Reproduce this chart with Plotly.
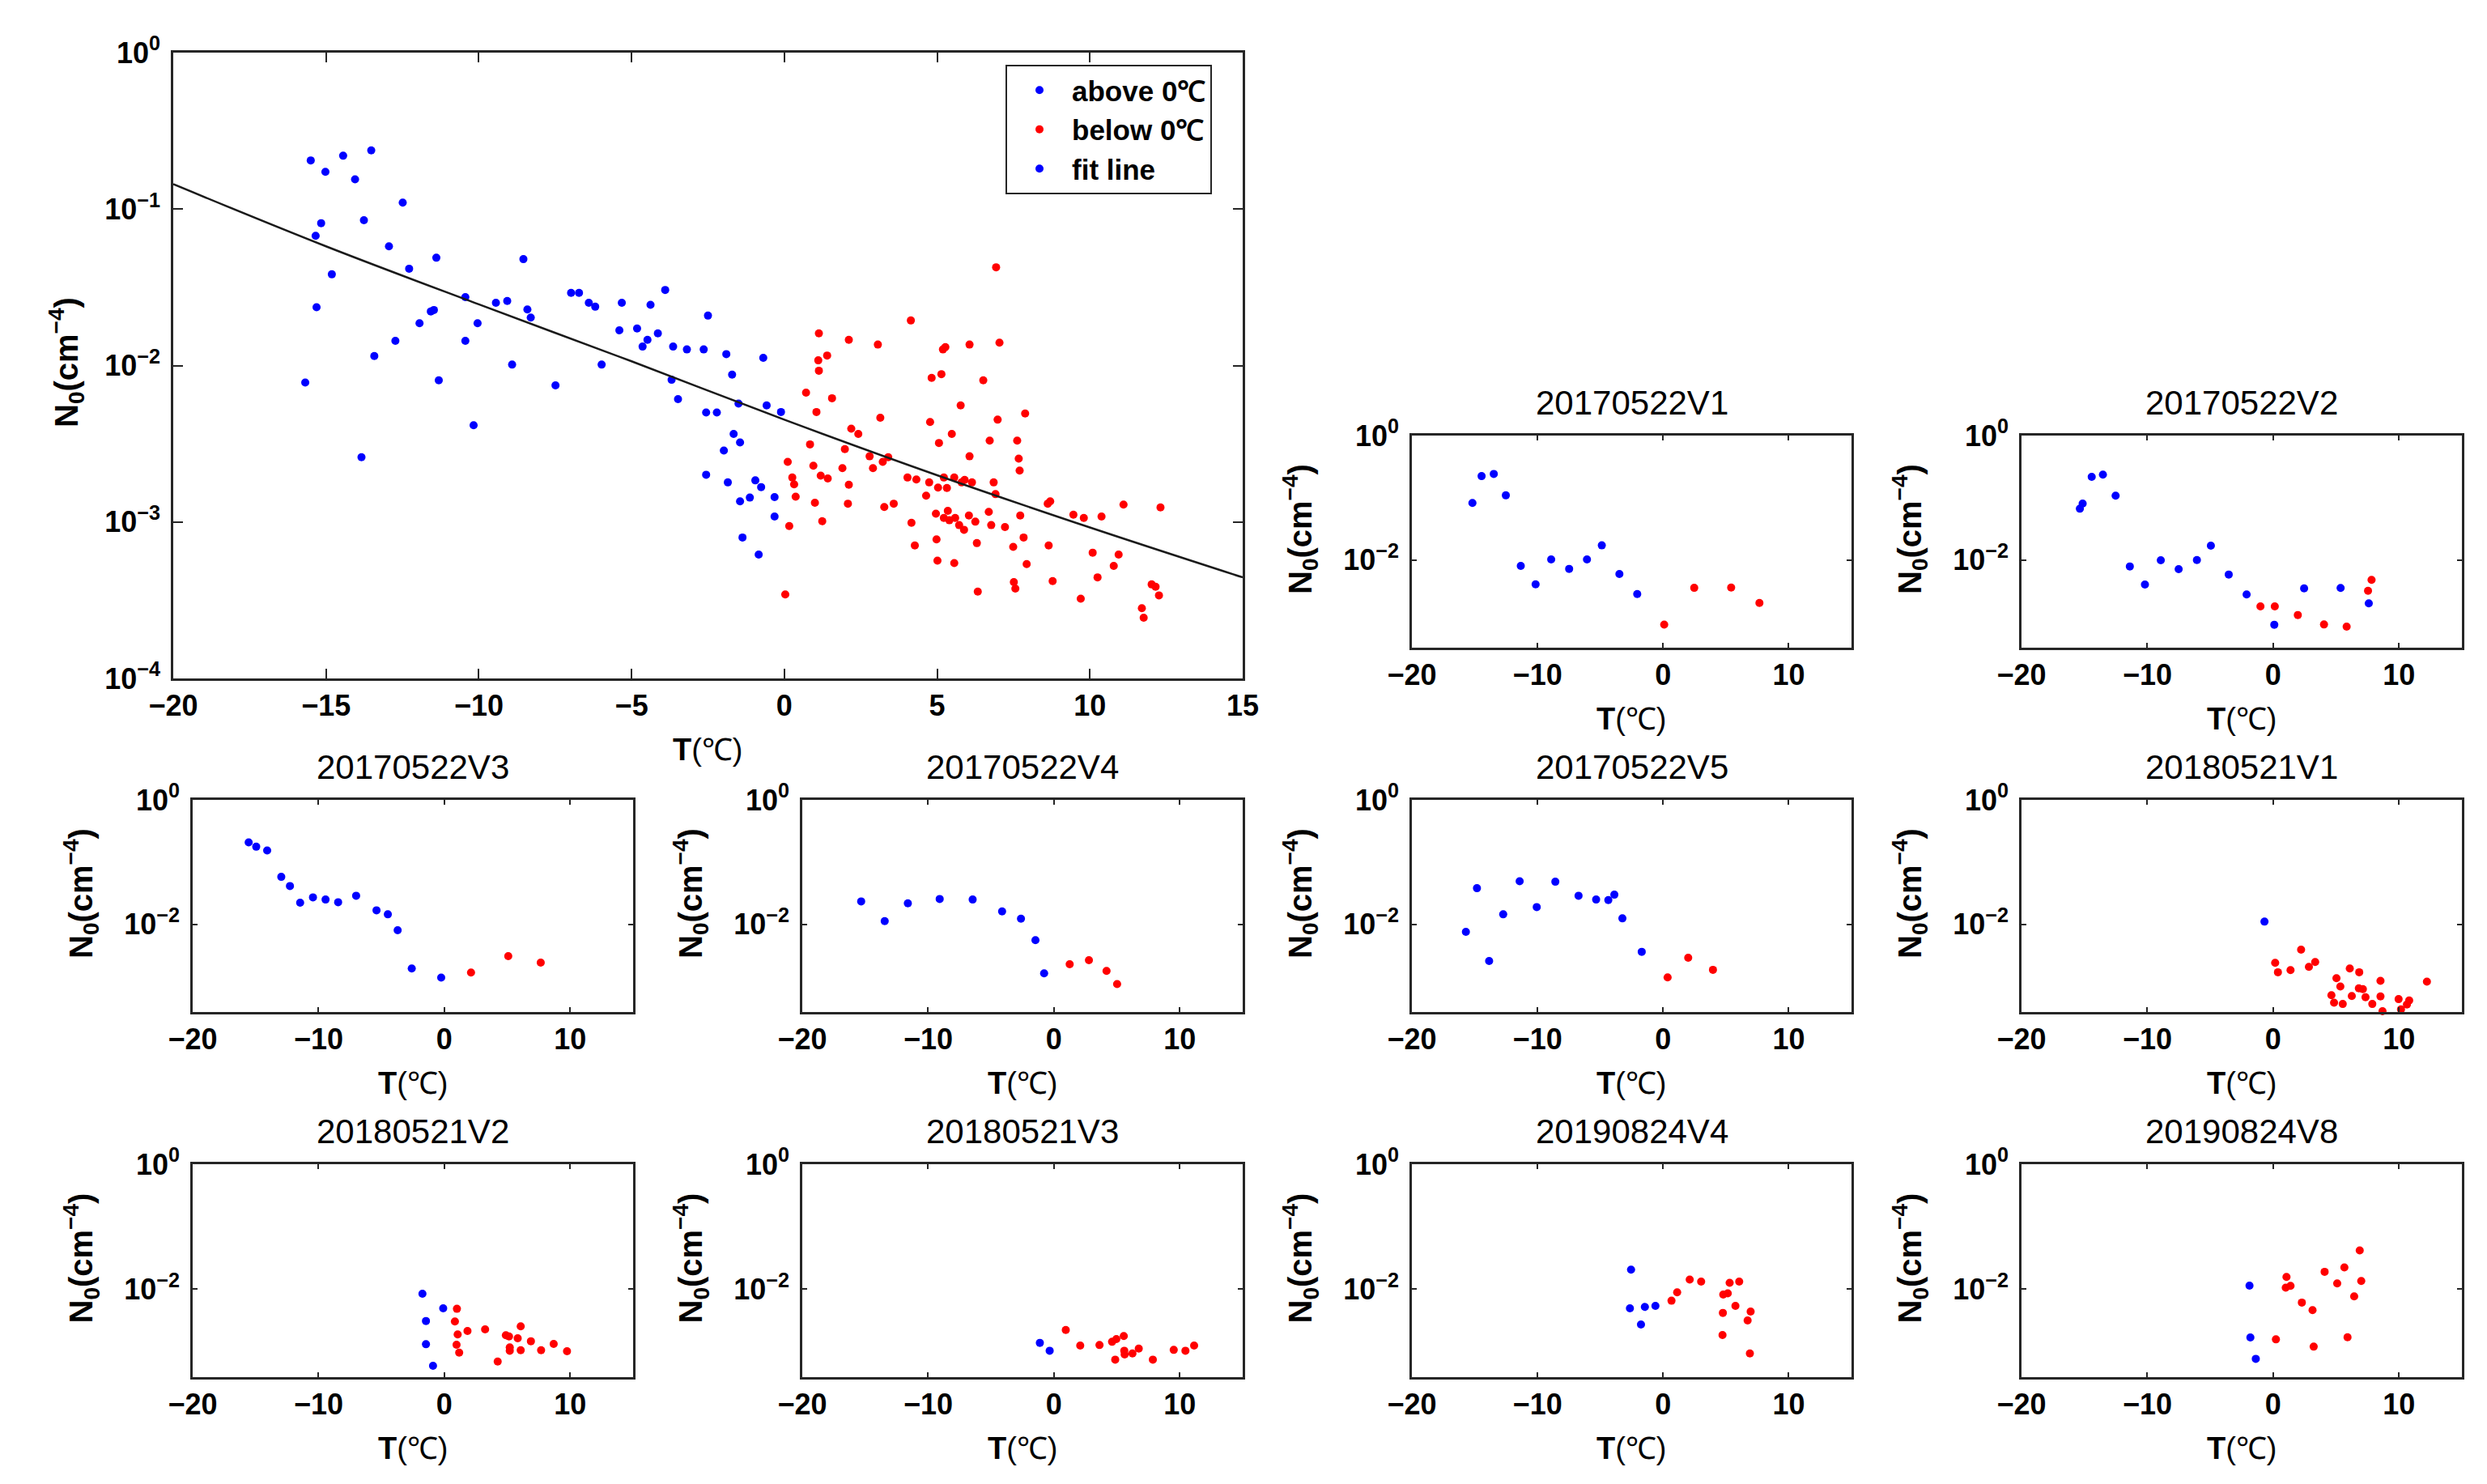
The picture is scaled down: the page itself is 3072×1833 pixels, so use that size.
import numpy as np
import plotly.graph_objects as go

FONT = "Liberation Sans"
W, H = 3072, 1833
BLUE = "rgb(0,0,255)"
RED = "rgb(255,0,0)"
AXIS = "#262626"

# ---- main panel (all flights), N0 stored as log10 values ----
main_blue_t = [-15.50, -15.34, -15.16, -15.02, -15.31, -14.81, -15.68, -14.44, -14.05, -13.76,
               -13.84, -13.52, -13.42, -12.94, -12.73, -12.49, -12.28, -11.94, -11.57, -11.47,
               -11.39, -11.31, -10.44, -10.44, -10.04, -10.17, -9.44, -9.07, -8.91, -8.54,
               -8.41, -8.30, -7.49, -6.98, -6.72, -6.40, -6.19, -5.98, -5.32, -5.40,
               -4.82, -4.64, -4.48, -4.38, -4.14, -3.90, -3.69, -3.64, -3.48, -3.19,
               -2.64, -2.56, -2.50, -2.21, -2.56, -1.90, -1.98, -1.85, -1.71, -1.66,
               -1.50, -1.45, -1.45, -1.37, -1.13, -0.95, -0.84, -0.76, -0.69, -0.58,
               -0.32, -0.32, -0.11]
main_blue_log10n = [-0.689, -1.171, -1.090, -0.762, -1.627, -1.417, -2.109, -0.659, -0.810, -1.071,
                    -2.586, -0.625, -1.939, -1.238, -1.842, -0.959, -1.381, -1.730, -1.654, -1.645,
                    -1.311, -2.094, -1.563, -1.842, -1.730, -2.382, -1.599, -1.587, -1.994, -1.320,
                    -1.642, -1.693, -2.127, -1.536, -1.536, -1.599, -1.624, -1.994, -1.599, -1.775,
                    -1.763, -1.879, -1.836, -1.612, -1.794, -1.517, -2.091, -1.879, -2.215, -1.897,
                    -1.897, -2.300, -1.681, -2.300, -2.698, -1.927, -2.543, -2.747, -2.058, -2.437,
                    -2.243, -2.492, -2.868, -3.099, -2.844, -2.734, -3.208, -2.777, -1.951, -2.255,
                    -2.841, -2.965, -2.297]
main_red_t = [0.03, 0.11, 0.16, 0.26, 0.32, 0.37, 0.71, 0.84, 0.95, 1.00,
              1.05, 1.11, 1.13, 1.13, 1.19, 1.24, 1.40, 1.42, 1.56, 1.90,
              1.98, 2.08, 2.11, 2.11, 2.19, 2.42, 2.79, 2.90, 3.06, 3.14,
              3.22, 3.27, 3.40, 3.58, 4.03, 4.14, 4.16, 4.27, 4.32, 4.64,
              4.74, 4.77, 4.82, 4.96, 4.98, 5.01, 5.03, 5.06, 5.14, 5.19,
              5.22, 5.22, 5.27, 5.32, 5.35, 5.40, 5.48, 5.56, 5.56, 5.59,
              5.72, 5.77, 5.80, 5.88, 5.90, 6.04, 6.06, 6.06, 6.14, 6.25,
              6.30, 6.33, 6.51, 6.69, 6.72, 6.77, 6.85, 6.91, 6.93, 6.98,
              7.04, 7.22, 7.49, 7.51, 7.56, 7.62, 7.67, 7.70, 7.72, 7.83,
              7.88, 7.93, 8.62, 8.65, 8.70, 8.78, 9.46, 9.70, 9.80, 10.09,
              10.25, 10.38, 10.78, 10.94, 11.10, 11.70, 11.76, 12.02, 12.15, 12.26, 12.31]
main_red_log10n = [-3.463, -2.616, -3.026, -2.716, -2.759, -2.838, -2.173, -2.504, -2.640, -2.877,
                   -2.297, -1.967, -2.033, -1.794, -2.704, -2.995, -1.936, -2.722, -2.209, -2.656,
                   -2.534, -2.883, -2.762, -1.836, -2.404, -2.437, -2.580, -2.656, -1.866, -2.334,
                   -2.616, -2.904, -2.586, -2.883, -2.716, -1.712, -3.005, -3.150, -2.728, -2.832,
                   -2.747, -2.361, -2.079, -2.947, -3.111, -3.247, -2.780, -2.495, -2.055, -1.897,
                   -2.716, -2.974, -1.882, -2.783, -2.929, -2.989, -2.437, -3.263, -2.716, -2.974,
                   -3.020, -2.255, -2.747, -3.050, -2.731, -2.959, -2.580, -1.866, -2.747, -2.998,
                   -3.135, -3.445, -2.094, -2.935, -2.480, -3.020, -2.747, -2.822, -1.372, -2.346,
                   -1.854, -3.032, -3.159, -3.384, -3.426, -2.480, -2.595, -2.671, -2.959, -3.099,
                   -2.307, -3.269, -2.883, -3.150, -2.868, -3.378, -2.953, -3.490, -2.974, -3.196,
                   -3.354, -2.965, -3.281, -3.208, -2.889, -3.551, -3.612, -3.399, -3.414, -3.469, -2.907]
fit_t = [-20, -15, -10, -5, 0, 5, 10, 15]
fit_log10n = [-0.841, -1.238, -1.609, -1.973, -2.346, -2.701, -3.035, -3.354]

# ---- single flights ----
a_blue_t = [-15.18, -14.45, -13.48, -12.52, -11.33, -10.15, -8.91, -7.48, -6.06, -4.88, -3.48, -2.06]
a_blue_log10n = [-1.083, -0.652, -0.617, -0.961, -2.096, -2.391, -1.991, -2.143, -1.991, -1.765, -2.226, -2.548]
a_red_t = [0.09, 2.48, 5.42, 7.67]
a_red_log10n = [-3.039, -2.448, -2.443, -2.691]

b_blue_t = [-15.36, -15.14, -14.42, -13.53, -12.52, -11.39, -10.19, -8.93, -7.51, -6.06,
            -4.95, -3.53, -2.11, 0.09, 2.46, 5.36, 7.60]
b_blue_log10n = [-1.176, -1.093, -0.664, -0.629, -0.967, -2.104, -2.395, -2.004, -2.148, -2.000,
                 -1.770, -2.234, -2.555, -3.041, -2.456, -2.451, -2.698]
b_red_t = [-1.01, 0.13, 1.96, 4.04, 5.84, 7.54, 7.82]
b_red_log10n = [-2.746, -2.746, -2.885, -3.037, -3.072, -2.495, -2.321]

c_blue_t = [-15.55, -14.95, -14.08, -12.96, -12.27, -11.46, -10.44, -9.44, -8.44, -7.01,
            -5.39, -4.49, -3.71, -2.59, -0.25]
c_blue_log10n = [-0.684, -0.753, -0.814, -1.238, -1.385, -1.654, -1.567, -1.602, -1.645, -1.541,
                 -1.775, -1.840, -2.095, -2.710, -2.857]
c_red_t = [2.12, 5.08, 7.66]
c_red_log10n = [-2.775, -2.511, -2.615]

d_blue_t = [-15.32, -13.45, -11.61, -9.08, -6.46, -4.12, -2.62, -1.47, -0.78]
d_blue_log10n = [-1.632, -1.948, -1.662, -1.593, -1.602, -1.792, -1.909, -2.255, -2.788]
d_red_t = [1.25, 2.78, 4.18, 5.02]
d_red_log10n = [-2.641, -2.576, -2.749, -2.961]

e_blue_t = [-15.70, -14.82, -13.85, -12.73, -11.42, -10.06, -8.58, -6.73, -5.33, -4.36, -3.88, -3.24, -1.70]
e_blue_log10n = [-2.121, -1.420, -2.589, -1.840, -1.307, -1.723, -1.316, -1.541, -1.602, -1.610, -1.524, -1.905, -2.442]
e_red_t = [0.36, 2.00, 3.97]
e_red_log10n = [-2.853, -2.537, -2.732]

f_blue_t = [-0.69]
f_blue_log10n = [-1.957]
f_red_t = [2.22, 0.16, 0.38, 1.38, 2.84, 3.34, 5.03, 5.34, 4.63, 4.84,
           5.53, 6.09, 6.84, 6.25, 6.81, 7.13, 7.34, 7.38, 7.88, 8.53,
           8.53, 8.69, 9.97, 10.16, 10.63, 10.81, 12.22]
f_red_log10n = [-2.407, -2.619, -2.771, -2.736, -2.684, -2.606, -2.866, -3.000, -3.139, -3.260,
                -3.281, -2.710, -2.771, -3.152, -3.030, -3.043, -3.173, -3.411, -3.281, -2.909,
                -3.160, -3.398, -3.203, -3.368, -3.290, -3.225, -2.922]

g_blue_t = [-1.74, -0.09, -1.46, -1.46, -0.90]
g_blue_log10n = [-2.074, -2.307, -2.511, -2.883, -3.229]
g_red_t = [1.00, 0.84, 1.84, 3.24, 1.06, 0.97, 1.18, 4.89, 5.14, 5.83,
           6.07, 5.20, 5.20, 6.07, 6.88, 7.69, 8.69, 9.75, 4.24]
g_red_log10n = [-2.316, -2.519, -2.671, -2.645, -2.727, -2.892, -3.017, -2.740, -2.758, -2.788,
                -2.597, -2.935, -2.987, -2.978, -2.835, -2.978, -2.879, -2.996, -3.160]

h_blue_t = [-1.12, -0.34]
h_blue_log10n = [-2.861, -2.987]
h_red_t = [0.94, 2.09, 3.62, 4.62, 4.96, 5.55, 4.87, 5.59, 5.62, 6.24, 6.74, 7.86, 9.52, 10.45, 11.14]
h_red_log10n = [-2.654, -2.905, -2.896, -2.844, -2.801, -2.753, -3.130, -2.987, -3.048, -3.030,
                -2.952, -3.130, -2.974, -2.987, -2.905]

i_blue_t = [-2.55, -2.64, -1.45, -0.61, -1.76]
i_blue_log10n = [-1.688, -2.307, -2.286, -2.268, -2.567]
i_red_t = [0.67, 1.12, 2.12, 3.03, 4.79, 5.15, 5.30, 6.06, 5.76, 4.76, 6.97, 6.73, 4.73, 6.91]
i_red_log10n = [-2.186, -2.052, -1.848, -1.879, -2.087, -2.069, -1.900, -1.879, -2.268, -2.381,
                -2.359, -2.502, -2.736, -3.030]

j_blue_t = [-1.88, -1.81, -1.38]
j_blue_log10n = [-1.944, -2.775, -3.117]
j_red_t = [1.06, 1.00, 1.38, 2.28, 3.13, 0.22, 3.22, 4.09, 5.09, 5.66, 5.91, 6.44, 6.88, 7.00]
j_red_log10n = [-1.805, -1.978, -1.948, -2.216, -2.338, -2.805, -2.922, -1.723, -1.909, -1.654,
                -2.771, -2.117, -1.381, -1.870]

panel_names = ["20170522V1", "20170522V2", "20170522V3", "20170522V4", "20170522V5",
               "20180521V1", "20180521V2", "20180521V3", "20190824V4", "20190824V8"]

panels = [
    (a_blue_t, a_blue_log10n, a_red_t, a_red_log10n),
    (b_blue_t, b_blue_log10n, b_red_t, b_red_log10n),
    (c_blue_t, c_blue_log10n, c_red_t, c_red_log10n),
    (d_blue_t, d_blue_log10n, d_red_t, d_red_log10n),
    (e_blue_t, e_blue_log10n, e_red_t, e_red_log10n),
    (f_blue_t, f_blue_log10n, f_red_t, f_red_log10n),
    (g_blue_t, g_blue_log10n, g_red_t, g_red_log10n),
    (h_blue_t, h_blue_log10n, h_red_t, h_red_log10n),
    (i_blue_t, i_blue_log10n, i_red_t, i_red_log10n),
    (j_blue_t, j_blue_log10n, j_red_t, j_red_log10n),
]

# pixel boxes of the small axes: columns (left, right), rows (top, bottom)
cols = [(230, 774), (983, 1527), (1736, 2279), (2489, 3033)]
rows = [(530, 792), (980, 1242), (1430, 1693)]
panel_cells = [(2, 0), (3, 0), (0, 1), (1, 1), (2, 1), (3, 1), (0, 2), (1, 2), (2, 2), (3, 2)]


def fx(px):
    return px / W


def fy(py):
    return 1 - py / H


def axis_common(ticklen):
    return dict(showline=True, linecolor=AXIS, linewidth=2.5, mirror="allticks",
                ticks="inside", ticklen=ticklen, tickwidth=2, tickcolor=AXIS,
                showgrid=False, zeroline=False, automargin=False,
                tickfont=dict(family=FONT, size=36, color="black", weight="bold"))


def label(px, py, text, size, angle=0):
    return dict(x=fx(px), y=fy(py), xref="paper", yref="paper", xanchor="center",
                yanchor="middle", showarrow=False, text=text, textangle=angle,
                font=dict(family=FONT, size=size, color="black"))


fig = go.Figure()

# main panel
fig.add_trace(go.Scatter(x=main_blue_t, y=10 ** np.array(main_blue_log10n), mode="markers",
                         marker=dict(color=BLUE, size=10), name="above 0℃",
                         xaxis="x", yaxis="y", cliponaxis=False))
fig.add_trace(go.Scatter(x=main_red_t, y=10 ** np.array(main_red_log10n), mode="markers",
                         marker=dict(color=RED, size=10), name="below 0℃",
                         xaxis="x", yaxis="y", cliponaxis=False))
fig.add_trace(go.Scatter(x=fit_t, y=10 ** np.array(fit_log10n), mode="lines",
                         line=dict(color="#1a1a1a", width=2.5, shape="spline"),
                         showlegend=False, xaxis="x", yaxis="y"))
# legend entry of the fit line shows a blue dot in the original
fig.add_trace(go.Scatter(x=[None], y=[None], mode="markers", marker=dict(color=BLUE, size=10),
                         name="fit line", xaxis="x", yaxis="y"))

layout = dict(
    width=W, height=H, margin=dict(l=0, r=0, t=0, b=0, autoexpand=False),
    paper_bgcolor="white", plot_bgcolor="white",
    font=dict(family=FONT, color="black"),
    showlegend=True,
    legend=dict(x=fx(1234), y=fy(72), xanchor="left", yanchor="top", itemwidth=70,
                bgcolor="white", bordercolor=AXIS, borderwidth=2,
                font=dict(family=FONT, size=35, color="black", weight="bold")),
)
layout["xaxis"] = dict(domain=[fx(206), fx(1527)], anchor="y", range=[-20, 15],
                       tickvals=list(range(-20, 16, 5)), ticklabelstandoff=0, **axis_common(12))
layout["yaxis"] = dict(domain=[fy(830), fy(57)], anchor="x", type="log", range=[-4, 0],
                       tickvals=[1, 0.1, 0.01, 0.001, 0.0001],
                       ticktext=["10<sup>0</sup>", "10<sup>−1</sup>", "10<sup>−2</sup>",
                                 "10<sup>−3</sup>", "10<sup>−4</sup>"],
                       ticklabelstandoff=6, **axis_common(12))

annotations = [
    label(866, 918, "<b>T</b>(℃)", 38),
    label(74, 440, "<b>N<sub>0</sub>(cm<sup>−4</sup>)</b>", 40, -90),
]

for k, (name, data, cell) in enumerate(zip(panel_names, panels, panel_cells), start=2):
    bt, bn, rt, rn = data
    (left, right), (top, bottom) = cols[cell[0]], rows[cell[1]]
    xa, ya = f"x{k}", f"y{k}"
    fig.add_trace(go.Scatter(x=bt, y=10 ** np.array(bn), mode="markers",
                             marker=dict(color=BLUE, size=10), showlegend=False,
                             xaxis=xa, yaxis=ya, cliponaxis=False))
    fig.add_trace(go.Scatter(x=rt, y=10 ** np.array(rn), mode="markers",
                             marker=dict(color=RED, size=10), showlegend=False,
                             xaxis=xa, yaxis=ya, cliponaxis=False))
    layout[f"xaxis{k}"] = dict(domain=[fx(left), fx(right)], anchor=ya, range=[-20, 15],
                               tickvals=[-20, -10, 0, 10], ticklabelstandoff=0,
                               **axis_common(6))
    layout[f"yaxis{k}"] = dict(domain=[fy(bottom), fy(top)], anchor=xa, type="log",
                               range=[-3.41, 0], tickvals=[1, 0.01],
                               ticktext=["10<sup>0</sup>", "10<sup>−2</sup>"],
                               ticklabelstandoff=6, **axis_common(6))
    cx = (left + right) / 2
    annotations.append(label(cx, top - 41, name, 42))
    annotations.append(label(cx, bottom + 88, "<b>T</b>(℃)", 38))
    annotations.append(label(left - 138, (top + bottom) / 2 - 15,
                             "<b>N<sub>0</sub>(cm<sup>−4</sup>)</b>", 40, -90))

layout["annotations"] = annotations
fig.update_layout(**layout)

fig.write_html("out.html")
